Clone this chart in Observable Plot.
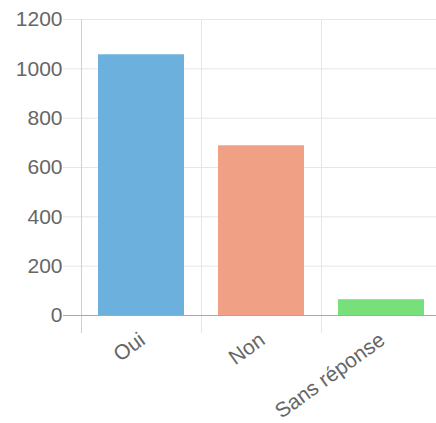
<!DOCTYPE html>
<html>
<head>
<meta charset="utf-8">
<script src="https://cdn.jsdelivr.net/npm/d3@7"></script>
<script src="https://cdn.jsdelivr.net/npm/@observablehq/plot@0.6"></script>
<style>
  html, body { margin: 0; padding: 0; background: #fff; }
  #chart { width: 436px; height: 423px; }
</style>
</head>
<body>
<div id="chart"></div>
<script>
const categories = ["Oui", "Non", "Sans réponse"];
const values = [1057, 688, 64];
const colors = ["#6cb1dd", "#f0a085", "#77e07b"];
const yTicks = [0, 200, 400, 600, 800, 1000, 1200];

const data = categories.map((c, i) => ({label: c, value: values[i], color: colors[i]}));

const W = 436, H = 423;
const mLeft = 81, mTop = 19, mBottom = 108;
const xRange = [mLeft, mLeft + 360];
const padIn = 0.28, padOut = 0.14;
const step = (xRange[1] - xRange[0]) / (categories.length - padIn + 2 * padOut);
const tickLen = 18;
const font = "'Liberation Sans', Helvetica, Arial, sans-serif";

const chart = Plot.plot({
  width: W,
  height: H,
  marginLeft: mLeft,
  marginRight: 0,
  marginTop: mTop,
  marginBottom: mBottom,
  style: {fontFamily: font, color: "#666", background: "#fff", overflow: "hidden"},
  x: {domain: categories, range: xRange, paddingInner: padIn, paddingOuter: padOut, axis: null},
  y: {domain: [0, 1200], axis: null},
  marks: [
    Plot.ruleY(yTicks.filter(d => d !== 0), {y: d => d, stroke: "#e6e6e6", strokeWidth: 1, insetLeft: -tickLen}),
    Plot.ruleX(categories.slice(1), {x: d => d, dx: -step / 2, stroke: "#e6e6e6", strokeWidth: 1, insetBottom: -tickLen}),
    Plot.ruleX(categories.slice(0, 1), {x: d => d, dx: -step / 2, stroke: "#d0d0d0", strokeWidth: 1, insetBottom: -tickLen}),
    Plot.barY(data, {x: "label", y: "value", fill: "color"}),
    Plot.ruleY([0], {stroke: "#a8a8a8", strokeWidth: 1.2, insetLeft: -tickLen}),
    Plot.axisY(yTicks, {tickSize: 0, tickPadding: 19, fontSize: 21, fill: "#666", label: null, tickFormat: d => String(d)}),
    Plot.text(data, {
      x: "label", y: d => 0, text: "label",
      rotate: -36, textAnchor: "end", lineAnchor: "middle",
      dy: 22, dx: 1, fontSize: 21, fill: "#666"
    })
  ]
});
document.getElementById("chart").appendChild(chart);
</script>
</body>
</html>
